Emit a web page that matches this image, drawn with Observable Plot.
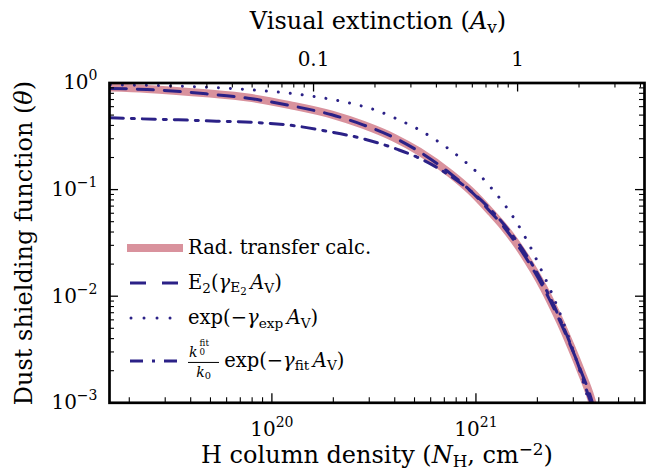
<!DOCTYPE html>
<html>
<head>
<meta charset="utf-8">
<script src="https://cdn.jsdelivr.net/npm/d3@7"></script>
<script src="https://cdn.jsdelivr.net/npm/@observablehq/plot@0.6"></script>
<style>
  html, body { margin: 0; padding: 0; background: white; }
  #wrap { position: relative; width: 648px; height: 471px; font-family: "DejaVu Serif", serif; color: black; }
  .t { position: absolute; white-space: nowrap; line-height: 1; transform: translate(-50%, -50%); font-size: 24px; }
  .t sub, .lg sub { font-size: 0.7em; vertical-align: -0.25em; line-height: 0; }
  .t sup, .lg sup { font-size: 0.7em; vertical-align: 0.5em; line-height: 0; }
  .lg { position: absolute; left: 188px; white-space: nowrap; line-height: 1; transform: translateY(-50%); font-size: 19.5px; }
  .lg .av { margin-left: 0.18em; }
  .frac { display: inline-flex; flex-direction: column; align-items: center; vertical-align: middle; font-size: 0.72em; margin-right: 5px; line-height: 1; }
  .frac .num { display: block; border-bottom: 1px solid black; padding: 0 1px 3px 1px; }
  .frac .den { display: block; padding-top: 2px; }
  .ss { display: inline-block; position: relative; width: 1.35em; height: 1em; vertical-align: baseline; margin-left: 0.12em; }
  .ss .sp { position: absolute; left: 0.05em; top: -0.5em; font-size: 0.62em; line-height: 1; }
  .ss .sb { position: absolute; left: 0.05em; top: 0.52em; font-size: 0.62em; line-height: 1; }
</style>
</head>
<body>
<div id="wrap">
  <div id="chart"></div>
  <div class="t" style="left:378px; top:21px;">Visual extinction (<i>A</i><sub>v</sub>)</div>
  <div class="t" style="left:377px; top:455px;">H column density (<i>N</i><sub>H</sub>, cm<sup>−2</sup>)</div>
  <div class="t" style="left:24px; top:243px; transform: translate(-50%, -50%) rotate(-90deg);">Dust shielding function (<i>θ</i>)</div>
  <svg id="lgsw" style="position:absolute; left:0; top:0; overflow:visible;" width="648" height="471"></svg>
  <div class="lg" style="top:248px;">Rad. transfer calc.</div>
  <div class="lg" style="top:283px;">E<sub>2</sub>(<i>γ</i><sub>E<sub style="font-size:0.75em">2</sub></sub><i class="av">A</i><sub>V</sub>)</div>
  <div class="lg" style="top:318px;">exp(−<i>γ</i><sub>exp</sub><i class="av">A</i><sub>V</sub>)</div>
  <div class="lg" style="top:361px;"><span class="frac"><span class="num"><i>k</i><span class="ss"><span class="sp">fit</span><span class="sb">0</span></span></span><span class="den"><i>k</i><sub>0</sub></span></span>exp(−<i>γ</i><sub>fit</sub><i class="av">A</i><sub>V</sub>)</div>
</div>
<script>
// ---- data ----
const NH_PER_AV = 1.6e21; // cm^-2 per magnitude (top axis conversion)

const nhRT    = [1.616e19, 2.44e19, 4.76e19, 7.64e19, 1.225e20, 1.968e20, 2.799e20, 3.99e20, 5.26e20, 7.499e20, 9.506e20, 1.183e21, 1.374e21, 1.538e21, 1.791e21, 1.928e21, 2.158e21, 2.328e21, 2.606e21, 2.917e21, 3.266e21, 3.656e21, 3.75e21];
const thetaRT = [0.905, 0.88, 0.80, 0.73, 0.62, 0.505, 0.405, 0.305, 0.228, 0.141, 0.0955, 0.0614, 0.0444, 0.0335, 0.0217, 0.0172, 0.0117, 0.0088, 0.0056, 0.0034, 0.0020, 0.00112, 0.00095];

const nhE2    = [1.616e19, 2.44e19, 4.76e19, 7.64e19, 1.225e20, 1.968e20, 2.799e20, 3.99e20, 5.26e20, 7.499e20, 9.506e20, 1.183e21, 1.374e21, 1.538e21, 1.791e21, 1.928e21, 2.158e21, 2.328e21, 2.606e21, 2.917e21, 3.266e21, 3.656e21, 3.75e21];
const thetaE2 = [0.888, 0.869, 0.792, 0.72, 0.615, 0.503, 0.405, 0.306, 0.228, 0.141, 0.0955, 0.0614, 0.0444, 0.0333, 0.0217, 0.0172, 0.0117, 0.0088, 0.0056, 0.0034, 0.0020, 0.00112, 0.00095];

const nhExp    = [1.616e19, 3.908e19, 7.943e19, 1.614e20, 2.393e20, 3.281e20, 4.159e20, 5.164e20, 6.412e20, 8.453e20, 1.028e21, 1.18e21, 1.38e21, 1.483e21, 1.675e21, 1.892e21, 2.08e21, 2.328e21, 2.559e21, 2.754e21, 3.083e21, 3.266e21, 3.524e21, 3.62e21];
const thetaExp = [0.962, 0.927, 0.863, 0.747, 0.65, 0.55, 0.455, 0.372, 0.289, 0.196, 0.141, 0.1054, 0.0724, 0.0597, 0.0410, 0.0265, 0.0180, 0.0112, 0.00718, 0.00493, 0.00262, 0.00185, 0.00114, 0.00098];

const nhFit    = [1.616e19, 2.296e19, 3.475e19, 5.358e19, 7.943e19, 1.225e20, 1.892e20, 2.799e20, 4.159e20, 5.164e20, 7.499e20, 9.506e20, 1.183e21, 1.538e21, 1.928e21, 2.328e21, 2.917e21, 3.266e21, 3.62e21, 3.70e21];
const thetaFit = [0.472, 0.461, 0.452, 0.438, 0.428, 0.402, 0.351, 0.300, 0.237, 0.201, 0.134, 0.0957, 0.0646, 0.0357, 0.0185, 0.0094, 0.00348, 0.00194, 0.00106, 0.00095];

const xMajor = [1e20, 1e21];
const xMinor = [2e19,3e19,4e19,5e19,6e19,7e19,8e19,9e19, 2e20,3e20,4e20,5e20,6e20,7e20,8e20,9e20, 2e21,3e21,4e21,5e21,6e21];
const avMajor = [0.1, 1];
const avMinor = [0.02,0.03,0.04,0.05,0.06,0.07,0.08,0.09, 0.2,0.3,0.4,0.5,0.6,0.7,0.8,0.9, 2,3,4];
const yMajor = [1e-3, 1e-2, 1e-1, 1];
const yMinor = [2e-3,3e-3,4e-3,5e-3,6e-3,7e-3,8e-3,9e-3, 2e-2,3e-2,4e-2,5e-2,6e-2,7e-2,8e-2,9e-2, 2e-1,3e-1,4e-1,5e-1,6e-1,7e-1,8e-1,9e-1];

const PINK = "#d9929d";
const BLUE = "#2b2187";

// ---- layout ----
const W = 648, H = 471;
const mL = 109, mR = 4, mT = 82.5, mB = 68.7;
const fW = W - mL - mR, fH = H - mT - mB;
const MAJ = 9, MIN = 5;

const rows = (xs, ys) => xs.map((x, i) => ({x, y: ys[i]}));
const sup10 = d => { const e = Math.round(Math.log10(d)); return "10^" + (e < 0 ? "\u2212" + (-e) : String(e)); };
const avFmt = d => d3.format("~g")(+(d / NH_PER_AV).toPrecision(3));

const chart = Plot.plot({
  width: W, height: H,
  marginLeft: mL, marginRight: mR, marginTop: mT, marginBottom: mB,
  x: {type: "log", domain: [1.6e19, 6.7e21]},
  y: {type: "log", domain: [1e-3, 1]},
  style: {fontFamily: "DejaVu Serif", fontSize: "20px", color: "black", background: "white", overflow: "visible"},
  marks: [
    Plot.line(rows(nhRT, thetaRT), {x: "x", y: "y", stroke: PINK, strokeWidth: 8, curve: "monotone-x", clip: true}),
    Plot.line(rows(nhE2, thetaE2), {x: "x", y: "y", stroke: BLUE, strokeWidth: 3, strokeDasharray: "16,11", curve: "monotone-x", clip: true}),
    Plot.line(rows(nhExp, thetaExp), {x: "x", y: "y", stroke: BLUE, strokeWidth: 3, strokeDasharray: "0.01,12", strokeLinecap: "round", curve: "monotone-x", clip: true}),
    Plot.line(rows(nhFit, thetaFit), {x: "x", y: "y", stroke: BLUE, strokeWidth: 3, strokeDasharray: "13,8,3,8", curve: "monotone-x", clip: true}),
    // inward ticks
    Plot.tickX(xMajor, {x: d => d, insetTop: fH - MAJ, stroke: "black", strokeWidth: 1.3}),
    Plot.tickX(xMinor, {x: d => d, insetTop: fH - MIN, stroke: "black", strokeWidth: 1.1}),
    Plot.tickX(avMajor, {x: d => d * NH_PER_AV, insetBottom: fH - MAJ, stroke: "black", strokeWidth: 1.3}),
    Plot.tickX(avMinor, {x: d => d * NH_PER_AV, insetBottom: fH - MIN, stroke: "black", strokeWidth: 1.1}),
    Plot.tickY(yMajor, {y: d => d, insetRight: fW - MAJ, stroke: "black", strokeWidth: 1.3}),
    Plot.tickY(yMinor, {y: d => d, insetRight: fW - MIN, stroke: "black", strokeWidth: 1.1}),
    Plot.tickY(yMajor, {y: d => d, insetLeft: fW - MAJ, stroke: "black", strokeWidth: 1.3}),
    Plot.tickY(yMinor, {y: d => d, insetLeft: fW - MIN, stroke: "black", strokeWidth: 1.1}),
    Plot.frame({stroke: "black", strokeWidth: 2.7}),
    Plot.axisX({anchor: "bottom", ticks: xMajor, tickSize: 0, tickPadding: 19, tickFormat: sup10, label: null}),
    Plot.axisX({anchor: "top", ticks: avMajor.map(a => a * NH_PER_AV), tickSize: 0, tickPadding: 17, tickFormat: avFmt, label: null}),
    Plot.axisY({anchor: "left", ticks: yMajor, tickSize: 0, tickPadding: 12, tickFormat: sup10, label: null})
  ]
});
document.getElementById("chart").appendChild(chart);

// superscripts in tick labels
const NS = "http://www.w3.org/2000/svg";
chart.querySelectorAll("text").forEach(t => {
  const s = t.textContent;
  if (!s.includes("^")) return;
  const [b, e] = s.split("^");
  while (t.firstChild) t.removeChild(t.firstChild);
  const t1 = document.createElementNS(NS, "tspan"); t1.textContent = b;
  const t2 = document.createElementNS(NS, "tspan"); t2.textContent = e;
  t2.setAttribute("font-size", "14px"); t2.setAttribute("dy", "-9");
  t.appendChild(t1); t.appendChild(t2);
});

// legend swatches
const sw = document.getElementById("lgsw");
const swatches = [
  {y: 248, x1: 127, x2: 183, stroke: PINK, w: 8, dash: null, cap: "butt"},
  {y: 283, x1: 130, x2: 178, stroke: BLUE, w: 3, dash: "16,16", cap: "butt"},
  {y: 318, x1: 131, x2: 178, stroke: BLUE, w: 3, dash: "0.01,13", cap: "round"},
  {y: 361, x1: 130, x2: 178, stroke: BLUE, w: 3, dash: "13,9,3,9", cap: "butt"}
];
swatches.forEach(s => {
  const l = document.createElementNS(NS, "line");
  l.setAttribute("x1", s.x1); l.setAttribute("x2", s.x2);
  l.setAttribute("y1", s.y); l.setAttribute("y2", s.y);
  l.setAttribute("stroke", s.stroke); l.setAttribute("stroke-width", s.w);
  l.setAttribute("stroke-linecap", s.cap);
  if (s.dash) l.setAttribute("stroke-dasharray", s.dash);
  sw.appendChild(l);
});
</script>
</body>
</html>
